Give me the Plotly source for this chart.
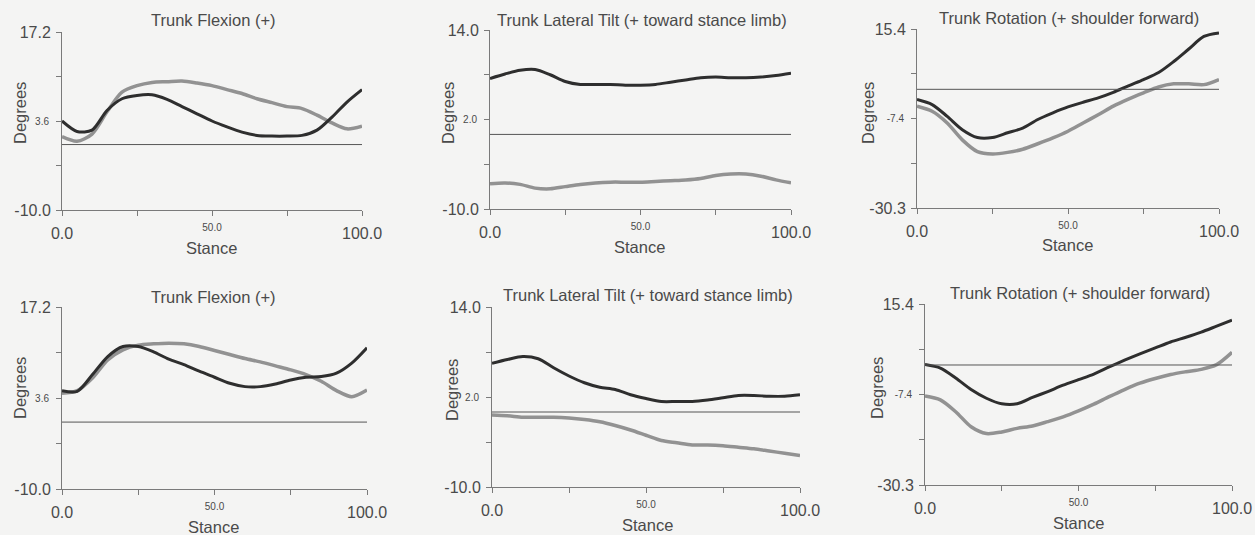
import plotly.graph_objects as go

W, H = 1255, 535

stance = [0, 5, 10, 15, 20, 25, 30, 35, 40, 45, 50, 55, 60, 65, 70, 75, 80, 85, 90, 95, 100]

titles = ["Trunk Flexion (+)", "Trunk Lateral Tilt (+ toward stance limb)", "Trunk Rotation (+ shoulder forward)",
          "Trunk Flexion (+)", "Trunk Lateral Tilt (+ toward stance limb)", "Trunk Rotation (+ shoulder forward)"]

# top row
flex_top_dark = [3.6, 2.0, 2.2, 5.2, 7.0, 7.5, 7.6, 6.9, 5.8, 4.7, 3.6, 2.7, 1.9, 1.4, 1.3, 1.3, 1.4, 2.2, 4.2, 6.5, 8.4]
flex_top_gray = [1.2, 0.5, 1.6, 5.0, 8.0, 9.0, 9.5, 9.6, 9.7, 9.4, 9.0, 8.4, 7.8, 7.0, 6.4, 5.8, 5.5, 4.5, 3.3, 2.4, 2.8]
tilt_top_dark = [7.5, 8.1, 8.6, 8.7, 8.0, 7.1, 6.7, 6.7, 6.7, 6.6, 6.6, 6.7, 7.0, 7.3, 7.6, 7.7, 7.6, 7.6, 7.7, 7.9, 8.2]
tilt_top_gray = [-6.6, -6.5, -6.7, -7.2, -7.3, -7.0, -6.7, -6.5, -6.4, -6.4, -6.4, -6.3, -6.2, -6.1, -5.9, -5.5, -5.3, -5.3, -5.6, -6.1, -6.5]
rot_top_dark = [-2.6, -3.9, -6.9, -10.3, -12.3, -12.3, -11.1, -9.9, -7.7, -6.0, -4.5, -3.3, -2.2, -0.8, 0.9, 2.5, 4.3, 7.1, 10.3, 13.5, 14.4]
rot_top_gray = [-4.3, -5.6, -8.6, -12.9, -15.9, -16.5, -16.1, -15.3, -13.9, -12.4, -10.7, -8.6, -6.5, -4.3, -2.5, -0.9, 0.6, 1.4, 1.4, 1.2, 2.5]

# bottom row
flex_bot_dark = [4.7, 4.6, 7.1, 9.8, 11.3, 11.3, 10.5, 9.4, 8.6, 7.6, 6.7, 5.8, 5.3, 5.3, 5.7, 6.3, 6.7, 6.8, 7.3, 8.8, 11.1]
flex_bot_gray = [4.3, 4.7, 6.6, 9.3, 10.8, 11.5, 11.7, 11.8, 11.7, 11.3, 10.7, 10.1, 9.5, 9.0, 8.4, 7.8, 7.1, 6.1, 4.7, 3.8, 4.8]
tilt_bot_dark = [6.5, 7.0, 7.4, 7.1, 5.9, 4.8, 3.9, 3.3, 3.0, 2.3, 1.8, 1.4, 1.4, 1.4, 1.6, 1.9, 2.2, 2.2, 2.1, 2.1, 2.3]
tilt_bot_gray = [-0.4, -0.5, -0.7, -0.7, -0.7, -0.8, -1.0, -1.3, -1.8, -2.4, -3.1, -3.8, -4.1, -4.4, -4.4, -4.5, -4.7, -4.9, -5.2, -5.5, -5.8]
rot_bot_dark = [0.1, -0.8, -3.3, -6.2, -8.4, -9.8, -9.8, -8.2, -6.7, -5.1, -3.7, -2.3, -0.5, 1.2, 2.8, 4.3, 5.8, 7.0, 8.3, 9.8, 11.3]
rot_bot_gray = [-7.8, -8.8, -11.8, -15.6, -17.3, -16.9, -16.0, -15.4, -14.3, -13.1, -11.6, -9.9, -8.0, -6.2, -4.6, -3.4, -2.4, -1.7, -1.1, 0.1, 3.2]

dark_series = [flex_top_dark, tilt_top_dark, rot_top_dark, flex_bot_dark, tilt_bot_dark, rot_bot_dark]
gray_series = [flex_top_gray, tilt_top_gray, rot_top_gray, flex_bot_gray, tilt_bot_gray, rot_bot_gray]

# zero reference line
baseline_x = [0, 100]
baseline_y = [0, 0]

y_ranges = [(-10.0, 17.2), (-10.0, 14.0), (-30.3, 15.4), (-10.0, 17.2), (-10.0, 14.0), (-30.3, 15.4)]
y_mid_labels = ["3.6", "2.0", "-7.4", "3.6", "2.0", "-7.4"]
x_ticks_big = [0, 100]
x_ticks_big_text = ["0.0", "100.0"]
x_tick_mid = 50
x_tick_mid_text = "50.0"

# pixel boxes (left, right, top, bottom) of the plot areas
boxes = [(62, 362, 32, 210), (490, 791, 30, 209), (917, 1219, 29, 208),
         (62, 367, 307, 489), (492, 800, 307, 487), (925, 1232, 304, 485)]
title_pos = [(213, 20), (642, 20), (1069, 18), (213, 297), (648, 295), (1080, 293)]
stance_pos = [(211, 248), (639, 247), (1067, 245), (213, 527), (647, 525), (1078, 523)]
deg_pos = [(20, 113), (448, 113), (868, 113), (20, 388), (452, 390), (877, 388)]

BG = "#f4f4f3"
AX = "#7a7a7a"
TXT = "#4a4a4a"
FONT = "Liberation Sans, Arial, sans-serif"

fig = go.Figure()
layout = dict(template="none", width=W, height=H, margin=dict(l=0, r=0, t=0, b=0, pad=0),
              paper_bgcolor=BG, plot_bgcolor=BG, showlegend=False,
              font=dict(family=FONT, color=TXT))
annotations = []

for i in range(6):
    n = "" if i == 0 else str(i + 1)
    xa, ya = "x" + n, "y" + n
    on = str(i + 7)
    xo, yo = "x" + on, "y" + on
    l, r, t, b = boxes[i]
    ymin, ymax = y_ranges[i]
    ystep = (ymax - ymin) / 4
    # zero line on the overlay axes (which carry the small middle tick labels)
    fig.add_trace(go.Scatter(x=baseline_x, y=baseline_y, mode="lines", xaxis=xo, yaxis=yo,
                             line=dict(color="#555555", width=1), hoverinfo="skip"))
    fig.add_trace(go.Scatter(x=stance, y=gray_series[i], mode="lines", xaxis=xa, yaxis=ya,
                             line=dict(color="#929292", width=3.5, shape="spline", smoothing=0.8)))
    fig.add_trace(go.Scatter(x=stance, y=dark_series[i], mode="lines", xaxis=xa, yaxis=ya,
                             line=dict(color="#2e2e2e", width=3, shape="spline", smoothing=0.8)))
    layout["xaxis" + n] = dict(
        domain=[l / W, r / W], range=[0, 100], anchor=ya, automargin=False,
        showgrid=False, zeroline=False, showline=True, linecolor=AX, linewidth=1,
        ticks="outside", ticklen=5, tickcolor=AX, tickwidth=1,
        tickmode="array", tickvals=x_ticks_big, ticktext=x_ticks_big_text,
        minor=dict(ticks="outside", ticklen=5, tickcolor=AX, tickwidth=1, tick0=0, dtick=25, showgrid=False),
        tickfont=dict(size=16, color=TXT, family=FONT), ticklabelstandoff=4)
    layout["yaxis" + n] = dict(
        domain=[1 - b / H, 1 - t / H], range=[ymin, ymax], anchor=xa, automargin=False,
        showgrid=False, zeroline=False, showline=True, linecolor=AX, linewidth=1,
        ticks="outside", ticklen=5, tickcolor=AX, tickwidth=1,
        tickmode="array", tickvals=[ymin, ymax],
        ticktext=[f"{ymin:.1f}", f"{ymax:.1f}"],
        minor=dict(ticks="outside", ticklen=5, tickcolor=AX, tickwidth=1, tick0=ymin, dtick=ystep, showgrid=False),
        tickfont=dict(size=16, color=TXT, family=FONT), ticklabelstandoff=2)
    layout["xaxis" + on] = dict(
        overlaying=xa, range=[0, 100], anchor=ya, side="bottom", automargin=False,
        showgrid=False, zeroline=False, showline=False, ticks="",
        tickmode="array", tickvals=[x_tick_mid], ticktext=[x_tick_mid_text],
        tickfont=dict(size=10, color=TXT, family=FONT), ticklabelstandoff=10)
    layout["yaxis" + on] = dict(
        overlaying=ya, range=[ymin, ymax], anchor=xa, side="left", automargin=False,
        showgrid=False, zeroline=False, showline=False, ticks="",
        tickmode="array", tickvals=[ymin + 2 * ystep], ticktext=[y_mid_labels[i]],
        tickfont=dict(size=10, color=TXT, family=FONT), ticklabelstandoff=12)
    tx, ty = title_pos[i]
    annotations.append(dict(text=titles[i], x=tx / W, y=1 - ty / H, xref="paper", yref="paper",
                            showarrow=False, xanchor="center", yanchor="middle",
                            font=dict(size=16.5, color=TXT, family=FONT)))
    sx, sy = stance_pos[i]
    annotations.append(dict(text="Stance", x=sx / W, y=1 - sy / H, xref="paper", yref="paper",
                            showarrow=False, xanchor="center", yanchor="middle",
                            font=dict(size=16.5, color=TXT, family=FONT)))
    dx, dy = deg_pos[i]
    annotations.append(dict(text="Degrees", x=dx / W, y=1 - dy / H, xref="paper", yref="paper",
                            showarrow=False, xanchor="center", yanchor="middle", textangle=-90,
                            font=dict(size=16.5, color=TXT, family=FONT)))

layout["annotations"] = annotations
fig.update_layout(**layout)
fig.write_html("out.html")
